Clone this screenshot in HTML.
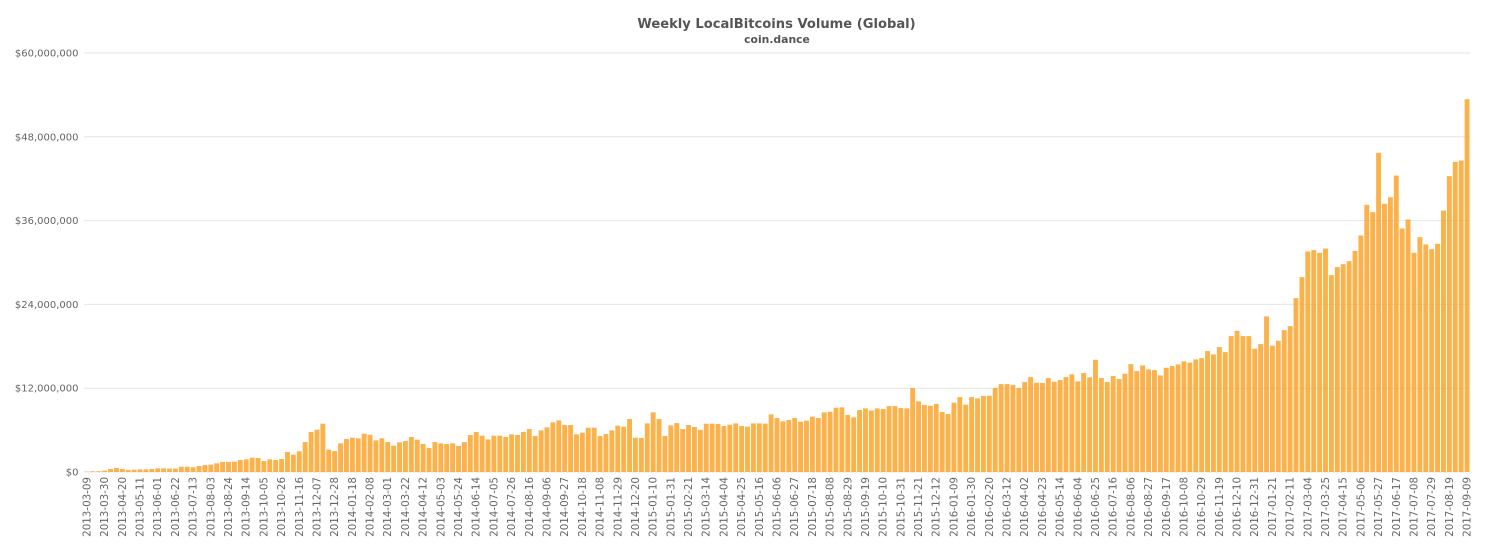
<!DOCTYPE html>
<html lang="en">
<head>
<meta charset="utf-8">
<title>Weekly LocalBitcoins Volume (Global)</title>
<style>
html,body{margin:0;padding:0;background:#fff;}
svg{display:block;}
text{font-family:"DejaVu Sans","Liberation Sans",sans-serif;}
</style>
</head>
<body>
<svg id="chart" xmlns="http://www.w3.org/2000/svg" width="1485" height="550" viewBox="0 0 1485 550">
  <rect x="0" y="0" width="1485" height="550" fill="#ffffff"/>
  <text x="776.5" y="28" text-anchor="middle" font-size="13.1" font-weight="700" fill="#555555">Weekly LocalBitcoins Volume (Global)</text>
  <text x="777" y="43" text-anchor="middle" font-size="10.8" font-weight="700" fill="#555555">coin.dance</text>
  <g id="grid"></g>
  <g id="yticks"></g>
  <g id="bars"></g>
  <g id="xticks"></g>
</svg>
<script>
// Weekly volume in millions of USD, one entry per bar
const volumes2013 = [0.05,0.1,0.1,0.2,0.43,0.57,0.43,0.29,0.33,0.38,0.38,0.43,0.52,0.52,0.48,0.48,0.76,0.76,0.67,0.86,1.0,1.05,1.24,1.43,1.43,1.48,1.72,1.81,2.05,2.0,1.57,1.81,1.72,1.86,2.86,2.48,2.96,4.29,5.72,6.06,6.92,3.2,3.0];
const volumes2014 = [4.1,4.72,4.91,4.82,5.48,5.34,4.53,4.82,4.29,3.77,4.25,4.44,5.01,4.63,4.01,3.43,4.29,4.1,4.01,4.1,3.72,4.29,5.29,5.72,5.2,4.67,5.2,5.2,5.01,5.39,5.29,5.72,6.15,5.15,5.96,6.39,7.11,7.39,6.73,6.73,5.39,5.63,6.34,6.34,5.15,5.44,5.96,6.63,6.49,7.58,4.91,4.87];
const volumes2015 = [6.96,8.54,7.58,5.15,6.68,7.01,6.15,6.73,6.44,6.01,6.92,6.92,6.87,6.58,6.77,6.96,6.58,6.49,6.96,6.96,6.92,8.25,7.73,7.25,7.44,7.73,7.2,7.35,7.92,7.73,8.54,8.63,9.21,9.25,8.16,7.82,8.87,9.11,8.82,9.11,9.02,9.44,9.44,9.16,9.11,12.02,10.11,9.59,9.49,9.73,8.59,8.3];
const volumes2016 = [9.92,10.73,9.64,10.73,10.54,10.88,10.92,12.02,12.59,12.59,12.45,12.02,12.88,13.59,12.78,12.74,13.45,12.93,13.17,13.59,13.98,12.97,14.17,13.55,16.07,13.45,12.88,13.74,13.31,14.07,15.45,14.45,15.26,14.69,14.6,13.83,14.93,15.17,15.41,15.84,15.65,16.12,16.31,17.32,16.84,17.89,17.17,19.46,20.22,19.46,19.46,17.65];
const volumes2017 = [18.32,22.28,18.08,18.79,20.32,20.89,24.9,27.9,31.58,31.77,31.39,32.0,28.19,29.34,29.76,30.19,31.67,33.87,38.26,37.21,45.7,38.4,39.35,42.45,34.87,36.16,31.39,33.63,32.58,31.91,32.67,37.44,42.36,44.41,44.6,53.38];
const volumes = [].concat(volumes2013, volumes2014, volumes2015, volumes2016, volumes2017);

// Printed labels
const yTickValues = [0, 12, 24, 36, 48, 60];
const yTickLabels = ["$0","$12,000,000","$24,000,000","$36,000,000","$48,000,000","$60,000,000"];
const xTickLabels = ["2013-03-09","2013-03-30","2013-04-20","2013-05-11","2013-06-01","2013-06-22","2013-07-13","2013-08-03","2013-08-24","2013-09-14","2013-10-05","2013-10-26","2013-11-16","2013-12-07","2013-12-28","2014-01-18","2014-02-08","2014-03-01","2014-03-22","2014-04-12","2014-05-03","2014-05-24","2014-06-14","2014-07-05","2014-07-26","2014-08-16","2014-09-06","2014-09-27","2014-10-18","2014-11-08","2014-11-29","2014-12-20","2015-01-10","2015-01-31","2015-02-21","2015-03-14","2015-04-04","2015-04-25","2015-05-16","2015-06-06","2015-06-27","2015-07-18","2015-08-08","2015-08-29","2015-09-19","2015-10-10","2015-10-31","2015-11-21","2015-12-12","2016-01-09","2016-01-30","2016-02-20","2016-03-12","2016-04-02","2016-04-23","2016-05-14","2016-06-04","2016-06-25","2016-07-16","2016-08-06","2016-08-27","2016-09-17","2016-10-08","2016-10-29","2016-11-19","2016-12-10","2016-12-31","2017-01-21","2017-02-11","2017-03-04","2017-03-25","2017-04-15","2017-05-06","2017-05-27","2017-06-17","2017-07-08","2017-07-29","2017-08-19","2017-09-09"];
const barsPerTick = 3;

// Axis functions
const plot = { left: 84, right: 1470, top: 53, bottom: 472, yMax: 60 };
function xBand() { return (plot.right - plot.left) / volumes.length; }
function xCenter(i) { return plot.left + xBand() * (i + 0.5); }
function yPos(v) { return plot.bottom - (v / plot.yMax) * (plot.bottom - plot.top); }

const NS = "http://www.w3.org/2000/svg";
const gridGroup = document.getElementById("grid");
const yGroup = document.getElementById("yticks");
const barGroup = document.getElementById("bars");
const xGroup = document.getElementById("xticks");

yTickValues.forEach(function (v, i) {
  const y = yPos(v);
  const line = document.createElementNS(NS, "line");
  
  
  line.setAttribute("x1", plot.left);
  line.setAttribute("x2", plot.right);
  line.setAttribute("y1", y);
  line.setAttribute("y2", y);
  line.setAttribute("stroke", "#e6e6e6");
  line.setAttribute("stroke-width", "1");
  gridGroup.appendChild(line);

  const label = document.createElementNS(NS, "text");
  
  
  label.setAttribute("x", 78.5);
  label.setAttribute("y", y + 3.5);
  label.setAttribute("text-anchor", "end");
  label.setAttribute("font-size", "10");
  label.setAttribute("fill", "#666666");
  label.textContent = yTickLabels[i];
  yGroup.appendChild(label);
});

volumes.forEach(function (v, i) {
  const w = 4.9;
  const top = yPos(v);
  const bar = document.createElementNS(NS, "rect");
  
  
  bar.setAttribute("x", xCenter(i) - w / 2);
  bar.setAttribute("y", top);
  bar.setAttribute("width", w);
  bar.setAttribute("height", plot.bottom - top);
  bar.setAttribute("fill", "#fa9f1e");
  bar.setAttribute("fill-opacity", "0.8");
  barGroup.appendChild(bar);
});

xTickLabels.forEach(function (t, i) {
  const x = xCenter(i * barsPerTick) + 3.5;
  const y = 477;
  const label = document.createElementNS(NS, "text");
  
  
  label.setAttribute("x", x);
  label.setAttribute("y", y);
  label.setAttribute("text-anchor", "end");
  label.setAttribute("font-size", "10.3");
  label.setAttribute("fill", "#666666");
  label.setAttribute("transform", "rotate(-90 " + x + " " + y + ")");
  label.textContent = t;
  xGroup.appendChild(label);
});
</script>
</body>
</html>
